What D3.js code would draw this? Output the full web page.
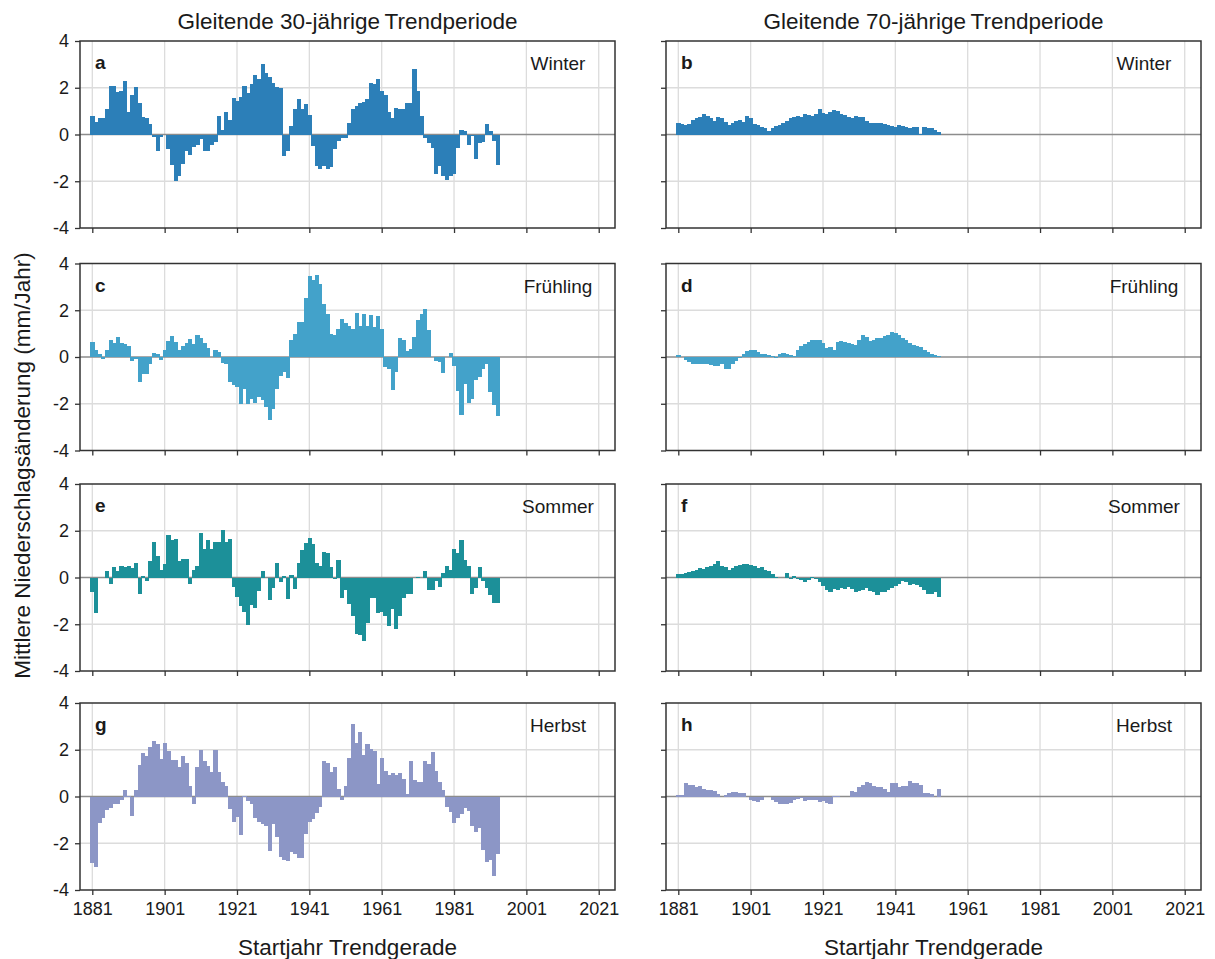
<!DOCTYPE html>
<html>
<head>
<meta charset="utf-8">
<script src="https://cdn.jsdelivr.net/npm/d3@7"></script>
<style>
  body { margin: 0; background: #fff; }
  svg text { font-family: "Liberation Sans", Arial, Helvetica, sans-serif; fill: #1a1a1a; }
</style>
</head>
<body>
<svg id="chart" width="1215" height="959"></svg>
<script>
// Start year of the first trend period in every panel
const firstStartYear = 1881;

// Axis ticks
const xTicks = [1881, 1901, 1921, 1941, 1961, 1981, 2001, 2021];
const yTicks = [-4, -2, 0, 2, 4];

// Mean precipitation trend (mm/Jahr), moving 30-year trend periods, start years 1881–1993
const winter30 = [0.79,0.55,0.69,0.69,1.1,2.07,2.07,1.83,1.86,2.31,
  0.97,1.69,2.04,1.36,0.74,0.69,0.46,-0.1,-0.71,-0.1,
  -0.03,-0.61,-1.31,-1.97,-1.79,-1.26,-0.71,-0.86,-0.54,-0.43,
  -0.21,-0.71,-0.71,-0.43,-0.3,0.79,0.21,0.97,0.6,1.57,
  1.45,1.61,2.07,1.79,2.17,2.54,2.36,3.03,2.64,2.46,
  2.21,2.03,2.0,-0.93,-0.71,0.36,1.07,1.5,1.07,1.29,
  0.83,-0.5,-1.36,-1.46,-1.36,-1.46,-1.4,-0.6,-0.29,-0.14,
  -0.14,0.5,1.07,1.21,1.36,1.4,1.5,2.21,2.14,2.36,
  1.86,1.71,0.97,0.71,1.14,1.07,1.07,1.36,1.33,2.79,
  1.86,0.79,-0.14,-0.36,-0.57,-1.71,-1.36,-1.79,-1.93,-1.79,
  -1.71,-0.57,0.21,0.14,-0.43,-0.07,-1.03,-0.36,-0.31,0.46,
  0.17,-0.26,-1.29];

const spring30 = [0.64,0.31,0.14,-0.07,0.31,0.71,0.6,0.86,0.6,0.57,
  0.46,-0.17,-0.07,-1.07,-0.74,-0.74,-0.31,0.17,0.11,-0.11,
  0.29,0.69,0.89,0.64,0.29,0.46,0.6,0.79,0.57,0.93,
  0.83,0.6,0.4,0,0.31,0.21,-0.26,-0.29,-1.07,-1.21,
  -1.29,-2.03,-1.36,-2.0,-1.79,-1.97,-1.71,-1.86,-2.14,-2.69,
  -2.21,-1.36,-0.83,-0.64,-0.89,0.74,0.97,1.5,1.5,2.54,
  3.46,3.31,3.5,3.11,2.26,1.86,0.97,0.93,1.21,1.64,
  1.46,1.31,1.21,1.89,1.31,1.83,1.31,1.79,1.29,1.74,
  1.21,-0.43,-0.5,-1.4,-0.64,0.83,0.74,0.26,0.36,0.86,
  1.6,1.83,2.07,1.14,0,-0.17,-0.21,-0.69,0,0.17,
  -0.4,-1.46,-2.46,-1.17,-1.97,-1.79,-0.97,-0.86,-0.5,-0.31,
  -1.5,-2.07,-2.54];

const summer30 = [-0.64,-1.5,-0.03,-0.03,0.29,-0.26,0.46,0.26,0.5,0.46,
  0.5,0.4,0.64,-0.69,0.07,-0.14,0.69,1.5,0.93,0.31,
  0.57,1.83,1.6,1.64,0.71,0.79,0.79,-0.29,0.31,0.5,
  1.89,1.21,1.6,1.21,1.54,1.54,2.03,1.54,1.64,-0.4,
  -0.83,-1.21,-1.46,-2.03,-1.17,-1.31,-0.57,0.29,-0.03,-0.97,
  -0.43,0.6,-0.21,0.07,-0.93,0.11,-0.5,0.6,1.17,1.46,
  1.69,1.43,0.6,0.5,1.11,1.03,0.46,-0.07,0.74,-0.89,
  -0.54,-1.14,-1.64,-2.4,-2.46,-2.71,-1.93,-0.86,-0.89,-1.54,
  -1.46,-1.64,-2.07,-1.36,-2.21,-1.64,-0.86,-0.71,-0.71,0,
  0.03,0.0,0.26,-0.54,-0.54,-0.14,-0.4,0.21,0.5,0.31,
  1.21,1.03,1.6,0.74,0.5,-0.69,-0.43,0.46,-0.14,-0.43,
  -0.74,-1.07,-1.11];

const autumn30 = [-2.84,-3.01,-1.13,-0.91,-0.57,-0.48,-0.34,-0.31,-0.14,0.26,
  0.04,-0.85,0.26,1.36,1.85,1.75,2.13,2.36,2.26,1.6,
  2.27,1.96,1.56,1.56,1.25,1.74,1.42,0.43,-0.31,1.25,
  1.99,1.53,1.32,1.04,1.99,1.04,0.61,0.43,-0.52,-1.09,
  -0.88,-1.66,0.04,-0.2,-0.34,-0.91,-1.09,-1.19,-1.28,-2.33,
  -1.19,-1.73,-2.58,-2.7,-2.75,-2.37,-2.47,-2.65,-2.65,-1.59,
  -1.09,-0.95,-0.71,-0.45,1.53,1.42,1.04,1.28,0.33,-0.17,
  0.47,1.65,3.12,2.27,2.78,1.79,2.24,2.03,1.96,0.54,
  1.65,1.08,0.94,0.99,0.94,0.99,0.75,0.11,1.53,0.71,
  0.61,0.61,1.53,1.39,1.89,1.08,0.61,0.28,-0.43,-0.67,
  -1.13,-0.91,-0.74,-0.48,-0.6,-1.28,-1.52,-1.33,-2.27,-2.79,
  -2.72,-3.4,-2.45];

// Mean precipitation trend (mm/Jahr), moving 70-year trend periods, start years 1881–1953
const winter70 = [0.5,0.43,0.4,0.46,0.6,0.69,0.74,0.86,0.79,0.69,
  0.57,0.74,0.69,0.54,0.4,0.5,0.57,0.6,0.54,0.79,
  0.71,0.46,0.4,0.31,0.26,0.17,0.29,0.36,0.4,0.5,
  0.57,0.69,0.74,0.79,0.74,0.89,0.83,0.79,0.86,1.07,
  0.93,0.89,0.97,1.03,1.0,0.89,0.83,0.74,0.71,0.78,
  0.74,0.74,0.57,0.5,0.5,0.5,0.5,0.46,0.4,0.36,
  0.31,0.4,0.36,0.31,0.29,0.31,0.31,0.03,0.31,0.26,
  0.26,0.21,0.1];

const spring70 = [0.07,-0.02,-0.11,-0.21,-0.31,-0.31,-0.29,-0.29,-0.31,-0.34,
  -0.37,-0.37,-0.31,-0.51,-0.51,-0.31,-0.17,-0.03,0.11,0.26,
  0.31,0.29,0.21,0.14,0.11,0.07,0.03,-0.06,0.11,0.17,
  0.14,0.07,0.03,0.31,0.46,0.57,0.64,0.71,0.74,0.74,
  0.6,0.4,0.43,0.31,0.64,0.69,0.64,0.6,0.54,0.5,
  0.71,0.93,0.86,0.69,0.74,0.83,0.83,0.89,0.93,1.07,
  1.03,0.93,0.83,0.71,0.6,0.5,0.46,0.43,0.31,0.21,
  0.14,0.07,0.03];

const summer70 = [0.14,0.17,0.2,0.23,0.29,0.31,0.4,0.36,0.46,0.5,
  0.57,0.69,0.5,0.46,0.31,0.4,0.5,0.54,0.57,0.57,
  0.54,0.5,0.4,0.46,0.31,0.29,0.14,0.03,0.0,-0.03,
  0.21,-0.07,0.07,-0.07,-0.11,-0.21,-0.11,0.03,-0.07,-0.21,
  -0.36,-0.54,-0.6,-0.5,-0.54,-0.46,-0.5,-0.4,-0.5,-0.6,
  -0.57,-0.54,-0.46,-0.57,-0.64,-0.74,-0.64,-0.6,-0.54,-0.46,
  -0.36,-0.26,-0.17,-0.21,-0.31,-0.29,-0.31,-0.4,-0.54,-0.71,
  -0.71,-0.64,-0.83];

const autumn70 = [0.06,0.06,0.59,0.49,0.49,0.41,0.44,0.34,0.27,0.27,
  0.24,0.1,-0.01,0.06,0.16,0.2,0.2,0.16,0.13,-0.04,
  -0.13,-0.19,-0.23,-0.13,-0.04,-0.02,-0.13,-0.23,-0.33,-0.3,
  -0.3,-0.27,-0.16,-0.09,-0.05,-0.19,-0.16,-0.16,-0.16,-0.23,
  -0.2,-0.27,-0.33,0.04,0.04,-0.01,-0.01,-0.01,0.24,0.2,
  0.39,0.49,0.63,0.56,0.44,0.39,0.39,0.34,0.2,0.56,
  0.59,0.41,0.44,0.44,0.67,0.59,0.59,0.49,0.16,0.13,
  0.1,-0.01,0.3];

const seasons = ["Winter", "Frühling", "Sommer", "Herbst"];
const seasonColors = ["#2c7fb8", "#43a2ca", "#1c9099", "#8c96c6"];
const columnTitles = ["Gleitende 30-jährige\u2009Trendperiode", "Gleitende 70-jährige\u2009Trendperiode"];
const xAxisTitle = "Startjahr Trendgerade";
const yAxisTitle = "Mittlere Niederschlagsänderung (mm/Jahr)";
const panelLetters = ["a", "b", "c", "d", "e", "f", "g", "h"];

const series30 = [winter30, spring30, summer30, autumn30];
const series70 = [winter70, spring70, summer70, autumn70];

// ---- layout ----
const colX = [80, 666];
const panelW = 535;
const rowY = [41, 263.5, 484, 703];
const panelH = 187;
const xDomain = [1877.6, 2025.5];

const svg = d3.select("#chart");

function drawPanel(row, col) {
  const values = col === 0 ? series30[row] : series70[row];
  const x0 = colX[col], y0 = rowY[row];
  const x = d3.scaleLinear().domain(xDomain).range([x0, x0 + panelW]);
  const y = d3.scaleLinear().domain([-4, 4]).range([y0 + panelH, y0]);
  const g = svg.append("g");

  // grid
  g.append("g").selectAll("line").data(xTicks).join("line")
    .attr("x1", d => x(d)).attr("x2", d => x(d))
    .attr("y1", y0).attr("y2", y0 + panelH)
    .attr("stroke", "#dcdcdc").attr("stroke-width", 1.3);
  g.append("g").selectAll("line").data([-2, 2]).join("line")
    .attr("x1", x0).attr("x2", x0 + panelW)
    .attr("y1", d => y(d)).attr("y2", d => y(d))
    .attr("stroke", "#dcdcdc").attr("stroke-width", 1.3);

  // zero line
  g.append("line")
    .attr("x1", x0).attr("x2", x0 + panelW)
    .attr("y1", y(0)).attr("y2", y(0))
    .attr("stroke", "#8c8c8c").attr("stroke-width", 1.3);

  // bars, one per start year (edges snapped so neighbouring bars join seamlessly)
  const data = values.map((v, i) => ({ year: firstStartYear + i, v }));
  g.append("g").attr("shape-rendering", "crispEdges")
    .selectAll("rect").data(data).join("rect")
    .attr("x", d => x(d.year - 0.5))
    .attr("width", d => x(d.year + 0.5) - x(d.year - 0.5) + 0.5)
    .attr("y", d => y(Math.max(0, d.v)))
    .attr("height", d => Math.abs(y(d.v) - y(0)))
    .attr("fill", seasonColors[row]);

  // y axis
  const yAxis = d3.axisLeft(y).tickValues(yTicks).tickSize(5).tickPadding(6)
    .tickFormat(col === 0 ? (d => String(d)) : () => "");
  const ya = g.append("g").attr("transform", `translate(${x0},0)`).call(yAxis);
  ya.select(".domain").remove();
  ya.selectAll(".tick line").attr("stroke", "#333").attr("stroke-width", 1.3);
  ya.selectAll(".tick text").attr("font-size", 18).attr("fill", "#1a1a1a")
    .style("font-family", '"Liberation Sans", Arial, sans-serif');

  // x axis
  const xAxis = d3.axisBottom(x).tickValues(xTicks).tickSize(5).tickPadding(7)
    .tickFormat(row === 3 ? (d => String(d)) : () => "");
  const xa = g.append("g").attr("transform", `translate(0,${y0 + panelH})`).call(xAxis);
  xa.select(".domain").remove();
  xa.selectAll(".tick line").attr("stroke", "#333").attr("stroke-width", 1.3);
  xa.selectAll(".tick text").attr("font-size", 18).attr("fill", "#1a1a1a")
    .style("font-family", '"Liberation Sans", Arial, sans-serif');

  // frame
  g.append("rect")
    .attr("x", x0).attr("y", y0).attr("width", panelW).attr("height", panelH)
    .attr("fill", "none").attr("stroke", "#333").attr("stroke-width", 1.5);

  // panel letter and season
  g.append("text").attr("x", x0 + 15).attr("y", y0 + 28)
    .attr("font-size", 19).attr("font-weight", "bold").text(panelLetters[row * 2 + col]);
  g.append("text").attr("x", x0 + 478).attr("y", y0 + 29)
    .attr("text-anchor", "middle").attr("font-size", 19).text(seasons[row]);
}

for (let r = 0; r < 4; r++) for (let c = 0; c < 2; c++) drawPanel(r, c);

// column titles and axis titles
colX.forEach((x0, c) => {
  svg.append("text").attr("x", x0 + panelW / 2).attr("y", 29)
    .attr("text-anchor", "middle").attr("font-size", 22.5).text(columnTitles[c]);
  svg.append("text").attr("x", x0 + panelW / 2).attr("y", 955)
    .attr("text-anchor", "middle").attr("font-size", 22.5).text(xAxisTitle);
});

svg.append("text")
  .attr("transform", `translate(30,${(rowY[0] + rowY[3] + panelH) / 2}) rotate(-90)`)
  .attr("text-anchor", "middle").attr("font-size", 22.5).text(yAxisTitle);
</script>
</body>
</html>
